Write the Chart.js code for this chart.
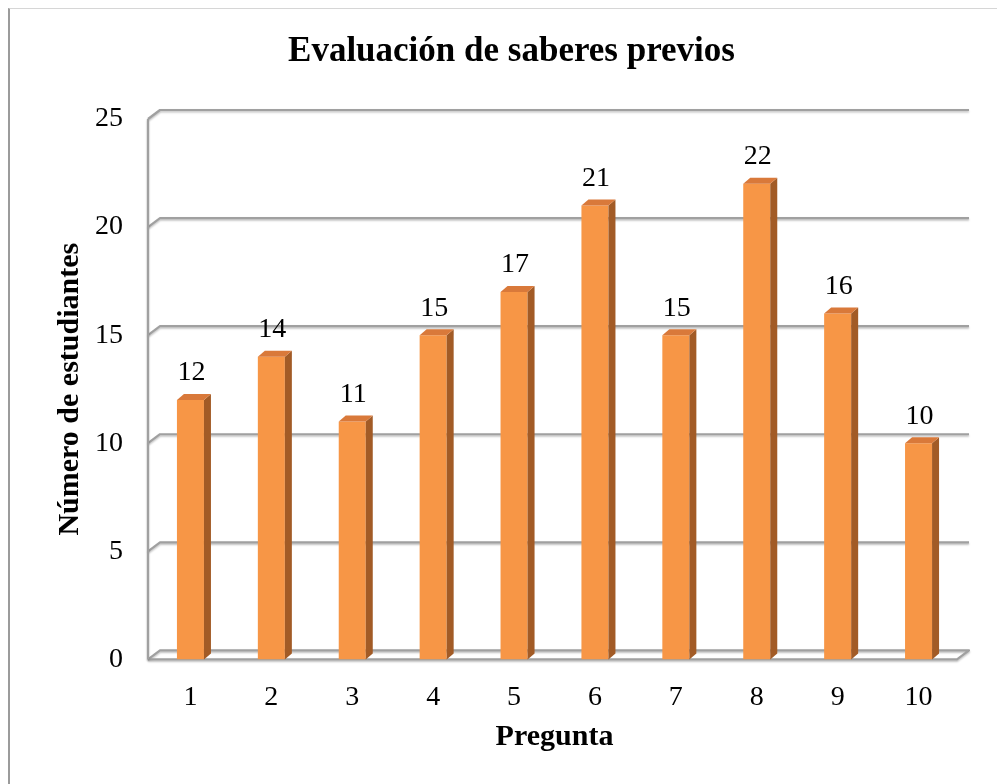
<!DOCTYPE html>
<html>
<head>
<meta charset="utf-8">
<script src="https://cdn.jsdelivr.net/npm/chart.js@4/dist/chart.umd.min.js"></script>
<style>
  html, body { margin: 0; padding: 0; background: #fff; overflow: hidden; }
  #wrap { position: relative; width: 997px; height: 784px; }
  #frame { position: absolute; left: 8px; top: 8px; right: -4px; bottom: -4px;
           border-left: 2px solid #9b9b9b; border-top: 1px solid #d6d6d6; pointer-events: none; }
  canvas { position: absolute; left: 0; top: 0; }
</style>
</head>
<body>
<div id="wrap">
  <canvas id="c" width="997" height="784"></canvas>
  <div id="frame"></div>
</div>
<script>
// Question numbers and how many students answered each correctly
const preguntas = ['1', '2', '3', '4', '5', '6', '7', '8', '9', '10'];
const estudiantes = [12, 14, 11, 15, 17, 21, 15, 22, 16, 10];
const yTickValues = [0, 5, 10, 15, 20, 25];
const chartTitle = 'Evaluación de saberes previos';
const xTitle = 'Pregunta';
const yTitle = 'Número de estudiantes';

const SERIF = '"Liberation Serif", "Times New Roman", serif';
const FRONT = '#F79646';
const SIDE = '#A25B26';
const TOP = '#D9793A';

// perspective offsets: back wall and bar depth
const WALL_DX = 12, WALL_DY = -9;
const BAR_DX = 7, BAR_DY = -6;
const FRAME_SHIFT = -2;

const depth3d = {
  id: 'depth3d',
  beforeDatasetsDraw(chart) {
    const { ctx, chartArea, scales } = chart;
    const y = scales.y;
    const L = chartArea.left + FRAME_SHIFT;
    const R = chartArea.right + FRAME_SHIFT;
    ctx.save();
    ctx.strokeStyle = '#a0a0a0';
    ctx.lineWidth = 2.2;
    ctx.shadowColor = 'rgba(0,0,0,0.25)';
    ctx.shadowBlur = 2;
    ctx.shadowOffsetY = 1.5;
    ctx.lineJoin = 'round';
    yTickValues.forEach(v => {
      const py = y.getPixelForValue(v);
      ctx.beginPath();
      ctx.moveTo(L, py);
      ctx.lineTo(L + WALL_DX, py + WALL_DY);
      ctx.lineTo(R + WALL_DX, py + WALL_DY);
      if (v === 0) {
        ctx.lineTo(R, py);
        ctx.lineTo(L, py);
      }
      ctx.stroke();
    });
    // front vertical axis edge
    ctx.beginPath();
    ctx.moveTo(L, y.getPixelForValue(yTickValues[yTickValues.length - 1]));
    ctx.lineTo(L, y.getPixelForValue(0));
    ctx.stroke();
    ctx.restore();
  },
  afterDatasetsDraw(chart) {
    const { ctx } = chart;
    const meta = chart.getDatasetMeta(0);
    ctx.save();
    meta.data.forEach((bar, i) => {
      const { x, y, base, width } = bar.getProps(['x', 'y', 'base', 'width'], true);
      const l = x - width / 2, r = x + width / 2;
      // right side face
      ctx.fillStyle = SIDE;
      ctx.beginPath();
      ctx.moveTo(r, y);
      ctx.lineTo(r + BAR_DX, y + BAR_DY);
      ctx.lineTo(r + BAR_DX, base + BAR_DY);
      ctx.lineTo(r, base);
      ctx.closePath();
      ctx.fill();
      // top face
      ctx.fillStyle = TOP;
      ctx.beginPath();
      ctx.moveTo(l, y);
      ctx.lineTo(l + BAR_DX, y + BAR_DY);
      ctx.lineTo(r + BAR_DX, y + BAR_DY);
      ctx.lineTo(r, y);
      ctx.closePath();
      ctx.fill();
      // value label
      ctx.fillStyle = '#000';
      ctx.font = '28px ' + SERIF;
      ctx.textAlign = 'center';
      ctx.textBaseline = 'middle';
      ctx.fillText(String(estudiantes[i]), x + 1, y - 27);
    });
    ctx.restore();
  },
  afterDraw(chart) {
    const { ctx } = chart;
    ctx.save();
    ctx.fillStyle = '#000';
    ctx.font = 'bold 35px ' + SERIF;
    ctx.textAlign = 'center';
    ctx.textBaseline = 'alphabetic';
    ctx.fillText(chartTitle, chart.width / 2 + 13, 61);
    ctx.restore();
  }
};

new Chart(document.getElementById('c'), {
  type: 'bar',
  data: {
    labels: preguntas,
    datasets: [{
      data: estudiantes,
      backgroundColor: FRONT,
      borderWidth: 0,
      categoryPercentage: 1,
      barPercentage: 0.334
    }]
  },
  options: {
    responsive: false,
    animation: false,
    devicePixelRatio: 1,
    layout: { padding: { left: 52, right: 38, top: 119, bottom: 29 } },
    plugins: {
      legend: { display: false },
      title: { display: false },
      tooltip: { enabled: false }
    },
    scales: {
      x: {
        grid: { display: false, drawTicks: false },
        border: { display: false },
        ticks: { color: '#000', font: { family: SERIF, size: 28 }, padding: 21 },
        title: {
          display: true, text: xTitle, color: '#000',
          font: { family: SERIF, size: 30, weight: 'bold' },
          padding: { top: -16, bottom: 0 }
        }
      },
      y: {
        min: 0, max: 25,
        afterBuildTicks(scale) { scale.ticks = yTickValues.map(v => ({ value: v })); },
        grid: { display: false, drawTicks: false },
        border: { display: false },
        ticks: { color: '#000', font: { family: SERIF, size: 28 }, padding: 27 },
        title: {
          display: true, text: yTitle, color: '#000',
          font: { family: SERIF, size: 30, weight: 'bold' },
          padding: { top: 0, bottom: -20 }
        }
      }
    }
  },
  plugins: [depth3d]
});
</script>
</body>
</html>
